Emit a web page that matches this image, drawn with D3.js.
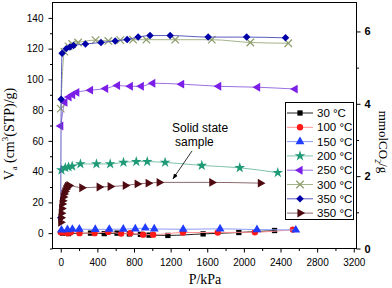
<!DOCTYPE html>
<html>
<head>
<meta charset="utf-8">
<script src="https://cdn.jsdelivr.net/npm/d3@7"></script>
<style>
body { margin: 0; background: #fff; }
svg { display: block; }
</style>
</head>
<body>
<div id="chart"></div>
<script>
// data: [P (kPa), Va (cm3(STP)/g)]
const t30 = [[20,0],[85,-0.3],[325,0],[475,-0.3],[615,0],[750,-0.5],[870,-0.8],[965,-1.3],[1170,-1.5],[1555,-0.5],[1945,0.4],[2335,1.7]];
const t100 = [[0,0.5],[30,0.5],[75,0],[110,0.5],[205,0],[370,0],[520,0.8],[660,-0.3],[760,0],[900,-1],[1010,-1],[1335,0.4],[1715,0.4],[2120,0.6],[2535,2.3]];
const t150 = [[8,2],[73,2.3],[127,2.5],[203,2.6],[377,2.4],[530,2.5],[683,2.6],[814,2.8],[923,3.3],[1021,2.7],[1337,2.5],[1740,2.8],[2143,2.3],[2567,2]];
const t200 = [[8,41],[50,42.5],[85,43],[125,43.5],[215,45],[390,45],[540,45],[685,46],[825,46.5],[945,46.5],[1140,46],[1540,44],[1955,42.5],[2370,39.3]];
const t250 = [[0,69.7],[45,85],[90,88.5],[130,90],[175,91.5],[325,93],[490,94],[620,96],[760,95.5],[880,95.5],[1005,97.5],[1320,96.9],[1725,95.5],[2150,94.9],[2560,93.7]];
const t300 = [[0,81],[40,118],[85,121.5],[125,123],[190,124],[380,125.5],[520,125],[650,125.5],[790,125.8],[935,125.8],[1250,125.8],[1650,125.8],[2070,124],[2485,123.5]];
const t350a = [[0,10],[5,87],[15,117],[60,120],[100,121],[140,122],[270,123],[440,124],[595,125],[725,126],[845,127.5],[975,128.5],[1195,128.5],[1610,127.5],[2030,127.5],[2455,127]];
const t350b = [[0,7],[3,10],[6,13],[10,16],[15,19],[20,21],[28,23.5],[35,25.5],[45,27],[55,28.5],[65,29.5],[75,30.5],[90,31],[230,29.5],[420,30],[540,30.3],[705,31],[835,32],[955,32.5],[1075,33],[1650,33],[2180,32.5]];

const seriesLabels = ['30 °C','100 °C','150 °C','200 °C','250 °C','300 °C','350 °C','350 °C'];
const xTicks = [0,400,800,1200,1600,2000,2400,2800,3200];
const leftTicks = [0,20,40,60,80,100,120,140];
const rightTicks = [0,2,4,6];

const series = [
    { data: t30,   marker: 'square',   fill: '#000000', line: '#222222' },
    { data: t100,  marker: 'circle',   fill: '#ff1a1a', line: '#ff9090' },
    { data: t150,  marker: 'triUp',    fill: '#1f3cff', line: '#8a9cf5' },
    { data: t200,  marker: 'star',     fill: '#1f9a77', line: '#80c2ad' },
    { data: t250,  marker: 'triLeft',  fill: '#7b1fe8', line: '#9b70e0' },
    { data: t300,  marker: 'asterisk', fill: '#8c9c6a', line: '#a5b38a' },
    { data: t350a, marker: 'diamond',  fill: '#0000a8', line: '#5b5bbf' },
    { data: t350b, marker: 'triRight', fill: '#4e0a10', line: '#8c6b70' }
];

const width = 392, height = 288;
const svg = d3.select('#chart').append('svg')
    .attr('width', width)
    .attr('height', height);

const x = d3.scaleLinear().domain([-90, 3230]).range([52.5, 356.5]);
const y = d3.scaleLinear().domain([-10, 150]).range([248.5, 2.5]);
const y2 = d3.scaleLinear().domain([0, 6.8]).range([248.5, 2.5]);

const tickFont = '"Liberation Sans", Arial, sans-serif';
const titleFont = '"Liberation Serif", "Times New Roman", serif';
const fmt = d3.format('d');

// axes
function styleAxis(g, bold) {
    g.select('.domain').remove();
    g.selectAll('line').attr('stroke', '#000');
    g.selectAll('text')
        .attr('font-family', tickFont)
        .attr('font-size', bold ? 11 : 10)
        .attr('font-weight', bold ? 'bold' : 'normal')
        .attr('fill', '#000');
}

svg.append('g')
    .attr('transform', 'translate(0,248.5)')
    .call(d3.axisBottom(x).tickValues(xTicks).tickFormat(fmt).tickSize(4).tickPadding(6))
    .call(g => styleAxis(g));
svg.append('g')
    .attr('transform', 'translate(0,248.5)')
    .call(d3.axisBottom(x).tickValues(d3.range(200, 3200, 400)).tickSize(2.5).tickFormat(''))
    .call(g => styleAxis(g));

svg.append('g')
    .attr('transform', 'translate(52.5,0)')
    .call(d3.axisLeft(y).tickValues(leftTicks).tickFormat(fmt).tickSize(4).tickPadding(5))
    .call(g => styleAxis(g));
svg.append('g')
    .attr('transform', 'translate(52.5,0)')
    .call(d3.axisLeft(y).tickValues(d3.range(-10, 150, 20)).tickSize(2.5).tickFormat(''))
    .call(g => styleAxis(g));

svg.append('g')
    .attr('transform', 'translate(356.5,0)')
    .call(d3.axisRight(y2).tickValues(rightTicks).tickFormat(fmt).tickSize(4).tickPadding(4))
    .call(g => styleAxis(g, true));
svg.append('g')
    .attr('transform', 'translate(356.5,0)')
    .call(d3.axisRight(y2).tickValues([1,3,5]).tickSize(2.5).tickFormat(''))
    .call(g => styleAxis(g));

// frame
svg.append('rect')
    .attr('x', 52.5).attr('y', 2.5)
    .attr('width', 304).attr('height', 246)
    .attr('fill', 'none')
    .attr('stroke', '#000')
    .attr('stroke-width', 1);

// axis titles
svg.append('text')
    .attr('x', 205).attr('y', 284)
    .attr('text-anchor', 'middle')
    .attr('font-family', titleFont)
    .attr('font-size', 14)
    .text('P/kPa');

const yt = svg.append('text')
    .attr('transform', 'translate(14,134) rotate(-90)')
    .attr('text-anchor', 'middle')
    .attr('font-family', titleFont)
    .attr('font-size', 14);
yt.append('tspan').text('V');
yt.append('tspan').attr('font-size', 8).attr('dy', 3).text('a');
yt.append('tspan').attr('dy', -3).text(' (cm');
yt.append('tspan').attr('font-size', 9).attr('dy', -6).text('3');
yt.append('tspan').attr('dy', 6).text('(STP)/g)');

const y2t = svg.append('text')
    .attr('transform', 'translate(379,142) rotate(90)')
    .attr('text-anchor', 'middle')
    .attr('font-family', titleFont)
    .attr('font-size', 13);
y2t.append('tspan').text('mmolCO');
y2t.append('tspan').attr('font-size', 8).attr('dy', 4).text('2');
y2t.append('tspan').attr('dy', -4).text('/g');

// markers
function drawMarker(sel, type, fill) {
    const sym = (t, s) => d3.symbol().type(t).size(s)();
    if (type === 'square') sel.append('path').attr('d', sym(d3.symbolSquare, 28)).attr('fill', fill);
    if (type === 'circle') sel.append('path').attr('d', sym(d3.symbolCircle, 32)).attr('fill', fill);
    if (type === 'triUp') sel.append('path').attr('d', sym(d3.symbolTriangle, 34)).attr('fill', fill);
    if (type === 'star') sel.append('path').attr('d', sym(d3.symbolStar, 36)).attr('fill', fill);
    if (type === 'triLeft') sel.append('path').attr('d', sym(d3.symbolTriangle, 34)).attr('transform', 'rotate(-90)').attr('fill', fill);
    if (type === 'triRight') sel.append('path').attr('d', sym(d3.symbolTriangle, 34)).attr('transform', 'rotate(90)').attr('fill', fill);
    if (type === 'diamond') sel.append('path').attr('d', sym(d3.symbolSquare, 28)).attr('transform', 'rotate(45)').attr('fill', fill);
    if (type === 'asterisk') {
        sel.append('path').attr('d', sym(d3.symbolTimes, 38)).attr('fill', 'none').attr('stroke', fill).attr('stroke-width', 1.2);
        sel.append('path').attr('d', sym(d3.symbolPlus, 20)).attr('fill', fill).attr('opacity', 0.7);
    }
}

const line = d3.line()
    .x(d => x(d[0]))
    .y(d => y(d[1]))
    .curve(d3.curveMonotoneX);

const plot = svg.append('g');
series.forEach(s => {
    plot.append('path')
        .attr('d', line(s.data))
        .attr('fill', 'none')
        .attr('stroke', s.line)
        .attr('stroke-width', 1);
    plot.selectAll(null)
        .data(s.data)
        .enter().append('g')
        .attr('transform', d => `translate(${x(d[0])},${y(d[1])})`)
        .each(function() { drawMarker(d3.select(this), s.marker, s.fill); });
});

// annotation
svg.append('defs').append('marker')
    .attr('id', 'arrow')
    .attr('viewBox', '0 0 10 10')
    .attr('refX', 9).attr('refY', 5)
    .attr('markerWidth', 7).attr('markerHeight', 7)
    .attr('orient', 'auto')
    .append('path').attr('d', 'M0,1 L10,5 L0,9 Z').attr('fill', '#000');

svg.append('line')
    .attr('x1', x(1434)).attr('y1', y(53.5))
    .attr('x2', x(1227)).attr('y2', y(35.4))
    .attr('stroke', '#000')
    .attr('stroke-width', 0.8)
    .attr('marker-end', 'url(#arrow)');

svg.append('text')
    .attr('x', x(1216)).attr('y', y(65.7))
    .attr('font-family', tickFont).attr('font-size', 12)
    .text('Solid state');
svg.append('text')
    .attr('x', x(1216) + 3).attr('y', y(56.7))
    .attr('font-family', tickFont).attr('font-size', 12)
    .text('sample');

// legend
const legend = svg.append('g');
legend.append('rect')
    .attr('x', 285.5).attr('y', 102.5)
    .attr('width', 68).attr('height', 117)
    .attr('fill', '#fff')
    .attr('stroke', '#000')
    .attr('stroke-width', 1);

series.forEach((s, i) => {
    const cy = 113 + i * 14.3;
    legend.append('line')
        .attr('x1', 287).attr('x2', 313)
        .attr('y1', cy).attr('y2', cy)
        .attr('stroke', s.line).attr('stroke-width', 1);
    const g = legend.append('g').attr('transform', `translate(300,${cy})`);
    drawMarker(g, s.marker, s.fill);
    legend.append('text')
        .attr('x', 317).attr('y', cy + 4)
        .attr('font-family', tickFont).attr('font-size', 11.5)
        .text(seriesLabels[i]);
});
</script>
</body>
</html>
